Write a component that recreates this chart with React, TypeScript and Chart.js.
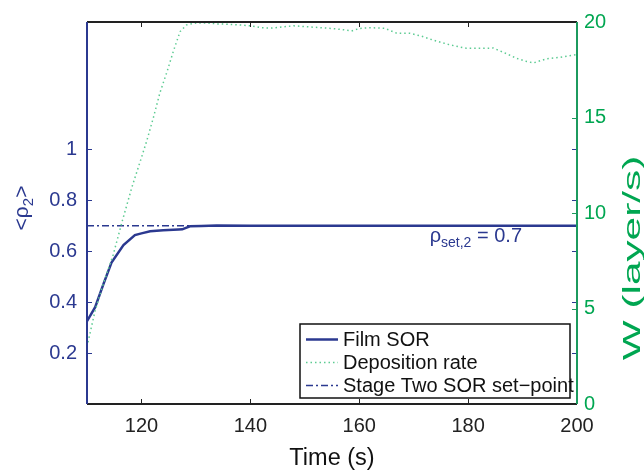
import React, { useEffect, useRef } from "react";
import { Chart, registerables } from "chart.js";

Chart.register(...registerables);

// ---- data ----
const sorTimes = [110, 111.5, 113, 114.5, 116.7, 118.8, 120, 121.6, 124, 126.8, 127.5, 128.9, 131, 133.8, 140, 160, 180, 200];
const filmSOR = [0.325, 0.38, 0.47, 0.555, 0.624, 0.663, 0.670, 0.678, 0.682, 0.685, 0.686, 0.698, 0.699, 0.701, 0.700, 0.700, 0.700, 0.700];

const rateTimes = [110, 111.5, 113, 114.8, 116.5, 118.3, 120, 121, 122.2, 123.4, 124.7, 125.9, 127.1, 128.3, 130, 132, 134, 136, 138, 140, 142, 144, 146, 148, 150, 152, 155, 157, 158.6, 160, 162, 164.7, 166.9, 169.3, 171.5, 173.6, 176.7, 179.7, 182.8, 184.6, 186.5, 188.9, 190.5, 192, 194.4, 196.9, 200];
const depositionRate = [3.0, 4.9, 6.3, 7.8, 9.6, 11.4, 12.9, 13.8, 15.0, 16.3, 17.4, 18.5, 19.5, 19.85, 19.95, 19.95, 19.9, 19.88, 19.85, 19.8, 19.7, 19.68, 19.75, 19.8, 19.76, 19.72, 19.66, 19.6, 19.53, 19.66, 19.7, 19.67, 19.41, 19.41, 19.25, 19.05, 18.8, 18.62, 18.62, 18.64, 18.41, 18.1, 17.95, 17.86, 18.07, 18.15, 18.3];

const setPointTimes = [110, 200];
const setPointValue = 0.7;

const xTicks = [120, 140, 160, 180, 200];
const leftTicks = [0.2, 0.4, 0.6, 0.8, 1];
const rightTicks = [0, 5, 10, 15, 20];

const legendLabels = ["Film SOR", "Deposition rate", "Stage Two SOR set\u2212point"];

const BLUE = "#2B3990";
const GREEN_TEXT = "#00A651";
const GREEN_AXIS = "#1C9A5E";
const GREEN_LINE = "#5CCB92";
const FONT = "'Liberation Sans', Arial, sans-serif";

const overlay = {
  id: "overlay",
  afterDraw(chart: any) {
    const { ctx, chartArea: a, scales } = chart;
    const xs = scales.x, ys = scales.y, y1 = scales.y1;
    ctx.save();
    const tl = 5;
    // ticks
    ctx.lineWidth = 1;
    ctx.strokeStyle = "#222";
    xTicks.forEach((v) => {
      const px = Math.round(xs.getPixelForValue(v)) + 0.5;
      ctx.beginPath();
      ctx.moveTo(px, a.bottom); ctx.lineTo(px, a.bottom - tl);
      ctx.moveTo(px, a.top); ctx.lineTo(px, a.top + tl);
      ctx.stroke();
    });
    ctx.strokeStyle = BLUE;
    leftTicks.forEach((v) => {
      const py = Math.round(ys.getPixelForValue(v)) + 0.5;
      ctx.beginPath();
      ctx.moveTo(a.left, py); ctx.lineTo(a.left + tl, py);
      ctx.moveTo(a.right, py); ctx.lineTo(a.right - tl, py);
      ctx.stroke();
    });
    ctx.strokeStyle = GREEN_AXIS;
    rightTicks.forEach((v) => {
      const py = Math.round(y1.getPixelForValue(v)) + 0.5;
      ctx.beginPath();
      ctx.moveTo(a.right, py); ctx.lineTo(a.right - tl, py);
      ctx.stroke();
    });
    // frame
    ctx.lineWidth = 2;
    ctx.strokeStyle = "#222";
    ctx.beginPath();
    ctx.moveTo(a.left, a.top); ctx.lineTo(a.right, a.top);
    ctx.moveTo(a.left, a.bottom); ctx.lineTo(a.right, a.bottom);
    ctx.stroke();
    ctx.strokeStyle = BLUE;
    ctx.beginPath();
    ctx.moveTo(a.left, a.top); ctx.lineTo(a.left, a.bottom);
    ctx.stroke();
    ctx.strokeStyle = GREEN_AXIS;
    ctx.beginPath();
    ctx.moveTo(a.right, a.top); ctx.lineTo(a.right, a.bottom);
    ctx.stroke();

    // annotation rho_set,2 = 0.7
    const annBase = 242;
    const annRight = 522;
    ctx.fillStyle = BLUE;
    ctx.textBaseline = "alphabetic";
    ctx.textAlign = "left";
    ctx.font = `20px ${FONT}`;
    const wRho = ctx.measureText("\u03C1").width;
    const wEq = ctx.measureText(" = 0.7").width;
    ctx.font = `14px ${FONT}`;
    const wSub = ctx.measureText("set,2").width;
    let ax = annRight - wEq - wSub - wRho;
    ctx.font = `20px ${FONT}`;
    ctx.fillText("\u03C1", ax, annBase);
    ax += wRho;
    ctx.font = `14px ${FONT}`;
    ctx.fillText("set,2", ax, annBase + 5);
    ax += wSub;
    ctx.font = `20px ${FONT}`;
    ctx.fillText(" = 0.7", ax, annBase);

    // legend
    const lx = 300, ly = 324, lw = 270, lh = 74;
    ctx.fillStyle = "#fff";
    ctx.fillRect(lx, ly, lw, lh);
    ctx.lineWidth = 1.5;
    ctx.strokeStyle = "#111";
    ctx.strokeRect(lx, ly, lw, lh);
    const rows = [339.5, 362.5, 385.5];
    const styles = [
      { color: BLUE, dash: [] as number[], width: 2.5 },
      { color: GREEN_LINE, dash: [1.5, 3], width: 1.5 },
      { color: BLUE, dash: [7, 3, 2, 3], width: 1.5 },
    ];
    rows.forEach((ry, i) => {
      const s = styles[i];
      ctx.save();
      ctx.strokeStyle = s.color;
      ctx.lineWidth = s.width;
      ctx.setLineDash(s.dash);
      ctx.beginPath();
      ctx.moveTo(306, ry); ctx.lineTo(338, ry);
      ctx.stroke();
      ctx.restore();
      ctx.fillStyle = "#111";
      ctx.font = `20px ${FONT}`;
      ctx.textBaseline = "middle";
      ctx.textAlign = "left";
      ctx.fillText(legendLabels[i], 343, ry + 1);
    });

    // x title
    ctx.fillStyle = "#111";
    ctx.font = `23.5px ${FONT}`;
    ctx.textAlign = "center";
    ctx.textBaseline = "alphabetic";
    ctx.fillText("Time (s)", (a.left + a.right) / 2, 465);

    // left title <rho_2>
    ctx.save();
    ctx.translate(28, 208);
    ctx.rotate(-Math.PI / 2);
    ctx.fillStyle = BLUE;
    ctx.font = `21px ${FONT}`;
    const w1 = ctx.measureText("<\u03C1").width;
    const w3 = ctx.measureText(">").width;
    ctx.font = `15px ${FONT}`;
    const w2 = ctx.measureText("2").width;
    let tx = -(w1 + w2 + w3) / 2;
    ctx.textAlign = "left";
    ctx.textBaseline = "alphabetic";
    ctx.font = `21px ${FONT}`;
    ctx.fillText("<\u03C1", tx, 0);
    tx += w1;
    ctx.font = `15px ${FONT}`;
    ctx.fillText("2", tx, 5);
    tx += w2;
    ctx.font = `21px ${FONT}`;
    ctx.fillText(">", tx, 0);
    ctx.restore();

    // right title
    ctx.save();
    ctx.translate(640, 258);
    ctx.rotate(-Math.PI / 2);
    ctx.scale(1.8, 1);
    ctx.fillStyle = GREEN_TEXT;
    ctx.font = `23.5px ${FONT}`;
    ctx.textAlign = "center";
    ctx.textBaseline = "alphabetic";
    ctx.fillText("W (layer/s)", 0, 0);
    ctx.restore();

    ctx.restore();
  },
};

export default function App() {
  const ref = useRef<HTMLCanvasElement | null>(null);
  useEffect(() => {
    document.body.style.margin = "0";
    const canvas = ref.current!;
    const chart = new Chart(canvas, {
      type: "line",
      data: {
        datasets: [
          {
            label: legendLabels[1],
            data: rateTimes.map((t, i) => ({ x: t, y: depositionRate[i] })),
            yAxisID: "y1",
            borderColor: GREEN_LINE,
            borderWidth: 1.5,
            borderDash: [1.5, 3],
            pointRadius: 0,
            tension: 0,
          },
          {
            label: legendLabels[0],
            data: sorTimes.map((t, i) => ({ x: t, y: filmSOR[i] })),
            yAxisID: "y",
            borderColor: BLUE,
            borderWidth: 2.5,
            pointRadius: 0,
            tension: 0,
          },
          {
            label: legendLabels[2],
            data: setPointTimes.map((t) => ({ x: t, y: setPointValue })),
            yAxisID: "y",
            borderColor: BLUE,
            borderWidth: 1.5,
            borderDash: [7, 3, 2, 3],
            pointRadius: 0,
            tension: 0,
          },
        ],
      },
      options: {
        responsive: false,
        animation: false,
        layout: { padding: { top: 17, left: 0, right: 0, bottom: 0 } },
        plugins: { legend: { display: false }, tooltip: { enabled: false } },
        scales: {
          x: {
            type: "linear",
            min: 110,
            max: 200,
            grid: { display: false, drawTicks: false },
            border: { display: false },
            afterBuildTicks: (s: any) => { s.ticks = xTicks.map((v) => ({ value: v })); },
            afterFit: (s: any) => { s.height = 66; },
            ticks: { color: "#222", padding: 10, font: { family: FONT, size: 20 }, maxRotation: 0, autoSkip: false },
          },
          y: {
            type: "linear",
            position: "left",
            min: 0,
            max: 1.5,
            grid: { display: false, drawTicks: false },
            border: { display: false },
            afterBuildTicks: (s: any) => { s.ticks = leftTicks.map((v) => ({ value: v })); },
            afterFit: (s: any) => { s.width = 87; },
            ticks: { color: BLUE, padding: 10, font: { family: FONT, size: 20 }, autoSkip: false, callback: (v: any) => String(v) },
          },
          y1: {
            type: "linear",
            position: "right",
            min: 0,
            max: 20,
            grid: { display: false, drawTicks: false },
            border: { display: false },
            afterBuildTicks: (s: any) => { s.ticks = rightTicks.map((v) => ({ value: v })); },
            afterFit: (s: any) => { s.width = 67; },
            ticks: { color: GREEN_TEXT, padding: 7, font: { family: FONT, size: 20 }, autoSkip: false, callback: (v: any) => String(v) },
          },
        },
      },
      plugins: [overlay],
    });
    return () => chart.destroy();
  }, []);
  return <canvas ref={ref} width={644} height={470} style={{ display: "block" }} />;
}
